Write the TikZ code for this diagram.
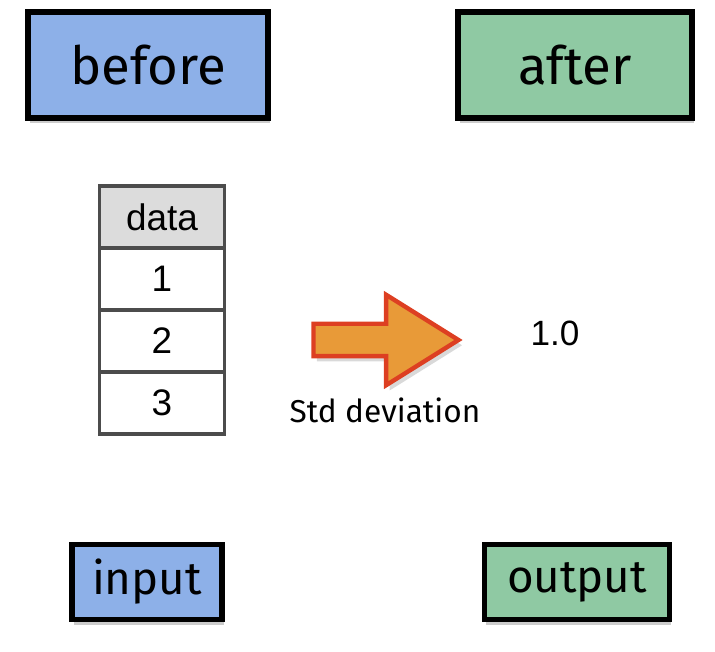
\documentclass[tikz,border=0pt]{standalone}
\usepackage{fontspec}
\setmainfont{Liberation Sans}
\newfontfamily\handfont{Fira Sans}
\usepackage{tikz}
\usetikzlibrary{positioning}
\usetikzlibrary{shapes,shapes.arrows,shadows}
\definecolor{beforeblue}{HTML}{8DB0E8}
\definecolor{aftergreen}{HTML}{8FC9A3}
\definecolor{cellgray}{HTML}{DCDCDC}
\definecolor{arrowred}{HTML}{DD3F22}
\definecolor{arroworange}{HTML}{E89A38}
\begin{document}
\begin{tikzpicture}
    [stagebox/.style={rectangle, draw=black, line width=3pt, drop shadow={shadow xshift=1pt, shadow yshift=-3pt, opacity=0.4}, font=\handfont\fontsize{30}{36}\selectfont},
     ioboxa/.style={stagebox, fill=beforeblue},
     ioboxb/.style={stagebox, fill=aftergreen},
     cell/.style={rectangle, draw=black!70, line width=2pt, fill=white, minimum width=2.5cm, minimum height=1.24cm, font=\fontsize{21}{25}\selectfont}]

    \useasboundingbox (0,0) rectangle (14.3,13.02);

    \node [ioboxa, minimum width=4.8cm, minimum height=2.12cm] (before) at (2.96,11.72) {before};
    \node [ioboxb, minimum width=4.68cm, minimum height=2.12cm] (after) at (11.5,11.72) {after};

    \node [cell, fill=cellgray] (head) at (3.24,8.68) {data};
    \node [cell, below=-2pt of head] (r1) {1};
    \node [cell, below=-2pt of r1] (r2) {2};
    \node [cell, below=-2pt of r2] (r3) {3};

    \node [single arrow, draw=arrowred, fill=arroworange, line width=2.5pt, minimum height=2.9cm, inner sep=0.28cm, single arrow head extend=0.58cm, single arrow tip angle=64, drop shadow={shadow xshift=2pt, shadow yshift=-3pt, opacity=0.3}] (std) at (7.46,6.22) {};
    \node [font=\handfont\fontsize{18}{22}\selectfont] (stdl) at (7.7,4.82) {Std deviation};
    \node [font=\fontsize{20}{24}\selectfont] (res) at (11.1,6.36) {1.0};

    \node [ioboxa, minimum width=3cm, minimum height=1.5cm, font=\handfont\fontsize{26}{31}\selectfont] (input) at (2.94,1.38) {input};
    \node [ioboxb, minimum width=3.7cm, minimum height=1.5cm, font=\handfont\fontsize{26}{31}\selectfont] (output) at (11.54,1.38) {output};
\end{tikzpicture}
\end{document}
